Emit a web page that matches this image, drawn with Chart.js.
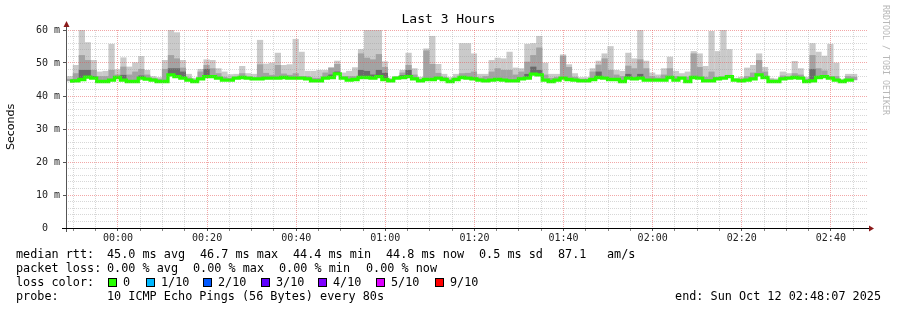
<!DOCTYPE html>
<html><head><meta charset="utf-8">
<script src="https://cdn.jsdelivr.net/npm/chart.js@4/dist/chart.umd.min.js"></script>
<style>
html,body{margin:0;padding:0;background:#fff;}
#wrap{position:relative;width:897px;height:310px;overflow:hidden;background:#fff;}
canvas{position:absolute;left:0;top:0;}
.t{position:absolute;white-space:pre;font-family:'DejaVu Sans Mono',monospace;font-size:11.8px;line-height:14px;color:#000;}
.sq{position:absolute;width:7px;height:7px;border:1px solid #000;}
#title{position:absolute;left:0;width:897px;top:11px;text-align:center;font-family:'DejaVu Sans Mono',monospace;font-size:13px;line-height:16px;color:#000;font-weight:normal;}
#ylab{position:absolute;left:5px;top:103px;width:12px;height:48px;line-height:12px;writing-mode:vertical-rl;transform:rotate(180deg);text-align:center;font-family:'DejaVu Sans',sans-serif;font-size:11px;font-weight:normal;white-space:nowrap;color:#000;}
#wm{position:absolute;left:881px;top:5px;line-height:10px;writing-mode:vertical-rl;font-family:'DejaVu Sans Mono',monospace;font-size:8.3px;white-space:nowrap;color:#b8b8b8;}
</style></head>
<body><div id="wrap"><canvas id="c" width="897" height="310"></canvas>
<div id="title">Last 3 Hours</div>
<div id="ylab">Seconds</div>
<div id="wm">RRDTOOL / TOBI OETIKER</div>
</div>
<script>
// ---- data (ms), one sample every 80 s, first sample 23:48:33 (minutes relative to 00:00) ----
const firstSampleMin = -11.45;
const stepSeconds = 80;
const medianRtt = [44.5,44.6,45.0,45.7,45.4,44.4,44.4,44.8,45.6,44.8,
 44.4,44.4,45.4,45.1,44.8,44.4,44.4,46.4,45.9,45.4,
 44.8,44.4,45.2,45.9,45.9,45.4,44.8,44.8,45.4,45.6,
 45.4,45.2,45.2,45.4,45.4,45.4,45.6,45.4,45.4,45.4,
 45.2,44.6,44.6,45.4,45.6,46.7,45.4,44.8,45.0,45.6,
 45.6,45.4,45.9,45.0,44.6,45.4,45.6,45.9,45.2,44.6,
 45.0,45.0,45.4,45.0,44.4,45.0,45.6,45.4,45.2,44.8,
 44.6,44.8,45.0,44.8,44.6,44.6,45.2,45.4,46.6,46.4,
 44.8,44.4,44.8,45.4,45.0,44.8,44.6,44.6,45.0,45.6,
 45.4,45.0,45.0,44.4,45.4,45.2,45.4,44.8,44.8,44.8,
 44.8,45.6,44.8,45.4,44.4,45.6,45.4,44.6,44.6,45.2,
 45.4,45.9,44.8,44.6,44.8,45.2,46.4,45.6,44.4,44.4,
 45.2,45.4,45.6,45.4,44.4,44.6,45.6,45.9,45.4,44.8,
 44.4,44.8,44.8];
const smokeMax = [46.0,49.4,60.5,56.3,50.9,47.4,47.6,55.8,48.1,51.7,
 48.9,50.2,52.1,47.9,46.0,45.7,50.9,60.5,59.3,50.9,
 46.7,45.5,48.2,51.1,50.9,48.4,47.4,46.6,46.7,49.1,
 46.9,46.7,57.0,49.8,50.1,53.1,49.4,49.6,57.3,53.4,
 47.6,47.6,47.9,47.9,48.8,50.7,47.1,47.6,48.7,54.2,
 60.7,60.7,60.7,50.5,45.5,46.0,47.9,53.1,48.4,45.8,
 54.4,58.2,49.7,46.7,45.7,46.7,56.0,56.0,52.9,46.7,
 46.7,50.9,51.6,51.4,53.4,48.6,48.4,55.8,56.0,58.2,
 50.1,46.7,46.7,52.6,49.6,46.9,45.7,45.7,48.4,50.7,
 52.9,55.1,47.9,47.6,53.1,51.4,60.0,50.7,47.1,46.5,
 48.4,51.9,47.6,46.9,47.4,53.6,52.9,49.1,59.7,53.6,
 60.5,54.2,45.5,45.8,48.6,49.4,52.9,48.8,45.5,45.3,
 47.4,46.9,50.6,48.4,45.8,56.0,53.4,52.2,55.8,50.1,
 45.2,46.7,46.7];
const smokeHigh = [45.2,46.9,52.4,50.9,47.9,46.0,46.0,47.9,46.5,48.9,
 46.5,47.4,48.2,46.5,45.5,45.2,48.2,52.4,51.4,48.6,
 45.6,45.0,47.4,49.4,48.4,46.9,45.8,45.5,45.8,46.9,
 45.8,45.6,49.6,47.0,46.4,49.4,46.8,46.4,46.9,46.0,
 46.0,45.5,45.5,47.1,48.5,49.7,46.0,46.0,46.0,52.9,
 51.6,51.1,52.7,48.8,45.0,45.8,47.1,49.4,46.5,45.2,
 53.8,49.7,47.0,45.8,45.0,45.6,46.9,47.0,47.4,45.6,
 46.0,47.4,48.4,47.9,47.9,46.5,47.4,50.4,52.4,54.7,
 46.5,45.5,45.8,52.2,48.8,45.8,45.2,45.2,47.4,49.5,
 51.4,47.9,46.5,46.0,49.2,48.4,51.1,48.4,46.0,45.6,
 46.5,48.4,46.0,45.8,45.8,52.9,48.8,45.8,47.4,45.8,
 45.8,46.4,45.2,45.2,46.0,47.1,50.9,47.4,45.0,44.9,
 46.2,45.9,46.9,46.5,45.2,52.4,48.4,47.7,46.0,46.0,
 44.9,46.0,45.8];
const smokeMid = [null,null,47.9,47.9,46.0,null,null,null,null,46.4,
 null,null,46.2,null,null,null,null,48.4,48.4,47.4,
 null,null,null,48.2,null,null,null,null,null,null,
 null,null,null,null,null,null,null,null,null,null,
 null,null,null,null,46.5,47.4,null,null,null,47.9,
 47.6,46.5,47.9,47.0,null,null,46.3,47.9,null,null,
 null,null,null,null,null,null,null,null,null,null,
 null,null,null,null,null,null,null,46.7,48.9,47.9,
 null,null,null,null,null,null,null,null,null,47.4,
 null,null,null,null,46.7,null,46.7,null,null,null,
 null,null,null,null,null,null,null,null,null,null,
 null,null,null,null,null,null,null,null,null,null,
 null,null,null,null,null,48.2,null,46.0,null,null,
 null,null,null];
const yTickValues = [0,10,20,30,40,50,60];
const yTickUnit = 'm';
const xTickLabels = ['00:00','00:20','00:40','01:00','01:20','01:40','02:00','02:20','02:40'];
const lossLabels = ['0','1/10','2/10','3/10','4/10','5/10','9/10'];
const lossColors = ['#26ff00','#00b8ff','#0059ff','#5e00ff','#7e00ff','#dd00ff','#ff0000'];
const statsRtt = ['median rtt:','45.0 ms avg','46.7 ms max','44.4 ms min','44.8 ms now','0.5 ms sd','87.1','am/s'];
const statsLoss = ['packet loss:','0.00 % avg','0.00 % max','0.00 % min','0.00 % now'];
const probeText = ['probe:','10 ICMP Echo Pings (56 Bytes) every 80s'];
const endText = 'end: Sun Oct 12 02:48:07 2025';

// ---- layout ----
const xMin = -11.67, xMax = 168.33;
const xGridStep = 5, xMajorStep = 20, yGridStep = 2, yMajorStep = 10;
const rttX = [16,107,200,293,386,479,558,607];
const lossX = [16,107,193,279,366];
const sqX = [108,146,203,261,318,376,435];
const lineY = [254,268,282,296];

const wrap = document.getElementById('wrap');
function addText(txt, x, cy, right){
  const d = document.createElement('div');
  d.className = 't'; d.textContent = txt;
  d.style.top = (cy - 7) + 'px';
  if (right) { d.style.right = (897 - x) + 'px'; } else { d.style.left = x + 'px'; }
  wrap.appendChild(d);
}
statsRtt.forEach((s,i)=>addText(s, rttX[i], lineY[0]));
statsLoss.forEach((s,i)=>addText(s, lossX[i], lineY[1]));
addText('loss color:', 16, lineY[2]);
lossLabels.forEach((s,i)=>{
  const q = document.createElement('div'); q.className='sq';
  q.style.left = sqX[i]+'px'; q.style.top = (lineY[2]-4)+'px'; q.style.background = lossColors[i];
  wrap.appendChild(q);
  addText(s, sqX[i]+15, lineY[2]);
});
addText(probeText[0], 16, lineY[3]);
addText(probeText[1], 107, lineY[3]);
addText(endText, 881, lineY[3], true);

const tAt = i => firstSampleMin + (i + 0.5) * stepSeconds / 60;
const medPts = medianRtt.map((v,i)=>({x:tAt(i), y:v}));
const maxPts = smokeMax.map((v,i)=>({x:tAt(i), y:[medianRtt[i], v]}));
const highPts = smokeHigh.map((v,i)=>({x:tAt(i), y:[medianRtt[i], v]}));
const midPts = smokeMid.map((v,i)=>({x:tAt(i), y: v===null ? null : [medianRtt[i], v]}));

const isMult = (v,m) => Math.abs(v/m - Math.round(v/m)) < 1e-6;
function gridValues(lo, hi, step){
  const out = [];
  for (let k = Math.ceil(lo/step); k*step <= hi + 1e-9; k++) out.push({value: k*step});
  return out;
}

const MAJOR = 'rgba(230,80,80,0.5)';
const MINOR = 'rgba(150,150,150,0.38)';

const axesPlugin = {
  id:'rrdAxes',
  afterDraw(chart){
    const c = chart.ctx, a = chart.chartArea;
    c.save();
    c.lineWidth = 1;
    c.strokeStyle = '#555';
    c.beginPath(); c.moveTo(a.left+0.5, a.bottom+4); c.lineTo(a.left+0.5, a.top-4); c.stroke();
    c.strokeStyle = '#000';
    c.beginPath(); c.moveTo(a.left-4, a.bottom+0.5); c.lineTo(a.right+2, a.bottom+0.5); c.stroke();
    c.fillStyle = '#8b1a1a';
    c.beginPath(); c.moveTo(a.left+0.5, a.top-9); c.lineTo(a.left-2.5, a.top-3); c.lineTo(a.left+3.5, a.top-3); c.closePath(); c.fill();
    c.beginPath(); c.moveTo(a.right+6, a.bottom+0.5); c.lineTo(a.right+1, a.bottom-2.5); c.lineTo(a.right+1, a.bottom+3.5); c.closePath(); c.fill();
    c.restore();
  }
};

new Chart(document.getElementById('c'), {
  type:'bar',
  data:{datasets:[
    {type:'line', data:medPts, stepped:'middle', borderColor:'#26ff00', borderWidth:3.3, pointRadius:0, fill:false, order:0, borderCapStyle:'butt', borderJoinStyle:'miter'},
    {type:'bar', data:midPts, backgroundColor:'#6a6a6a', grouped:false, order:1, categoryPercentage:1, barPercentage:1.05, borderWidth:0},
    {type:'bar', data:highPts, backgroundColor:'#a3a3a3', grouped:false, order:2, categoryPercentage:1, barPercentage:1.05, borderWidth:0},
    {type:'bar', data:maxPts, backgroundColor:'#cacaca', grouped:false, order:3, categoryPercentage:1, barPercentage:1.05, borderWidth:0}
  ]},
  options:{
    responsive:false, animation:false,
    layout:{padding:{left:0,right:29,top:30,bottom:62}},
    plugins:{legend:{display:false}, tooltip:{enabled:false}, title:{display:false}},
    scales:{
      x:{type:'linear', min:xMin, max:xMax, offset:false,
        afterFit: s => { s.height = 20; },
        afterBuildTicks: s => { s.ticks = gridValues(xMin, xMax, xGridStep); },
        ticks:{autoSkip:false, maxRotation:0, minRotation:0, padding:1, color:'#222',
          font:{family:'DejaVu Sans Mono', size:10},
          callback: v => (isMult(v,xMajorStep) && v>=0) ? (xTickLabels[Math.round(v/xMajorStep)] || '') : ''},
        grid:{offset:false, z:1, lineWidth:1, tickLength:3, tickBorderDash:[],
          color: c => !c.tick ? 'rgba(0,0,0,0)' : (isMult(c.tick.value,xMajorStep) ? MAJOR : MINOR),
          tickColor: c => !c.tick ? 'rgba(0,0,0,0)' : (isMult(c.tick.value,xMajorStep) ? '#555' : '#888')},
        border:{display:false, dash:[1,1]}
      },
      y:{type:'linear', min:0, max:60,
        afterFit: s => { s.width = 66; },
        afterBuildTicks: s => { s.ticks = gridValues(0, 60, yGridStep); },
        ticks:{autoSkip:false, padding:3, color:'#222',
          font:{family:'DejaVu Sans Mono', size:10},
          callback: v => { const r = Math.round(v); return (isMult(v,yMajorStep) && yTickValues.includes(r)) ? (r===0 ? '0  ' : r + ' ' + yTickUnit) : ''; }},
        grid:{z:1, lineWidth:1, tickLength:3, tickBorderDash:[],
          color: c => (c.tick && isMult(c.tick.value,yMajorStep)) ? MAJOR : MINOR,
          tickColor: c => (c.tick && isMult(c.tick.value,yMajorStep)) ? '#555' : 'rgba(0,0,0,0)'},
        border:{display:false, dash:[1,1]}
      }
    }
  },
  plugins:[axesPlugin]
});
</script>
</body></html>
